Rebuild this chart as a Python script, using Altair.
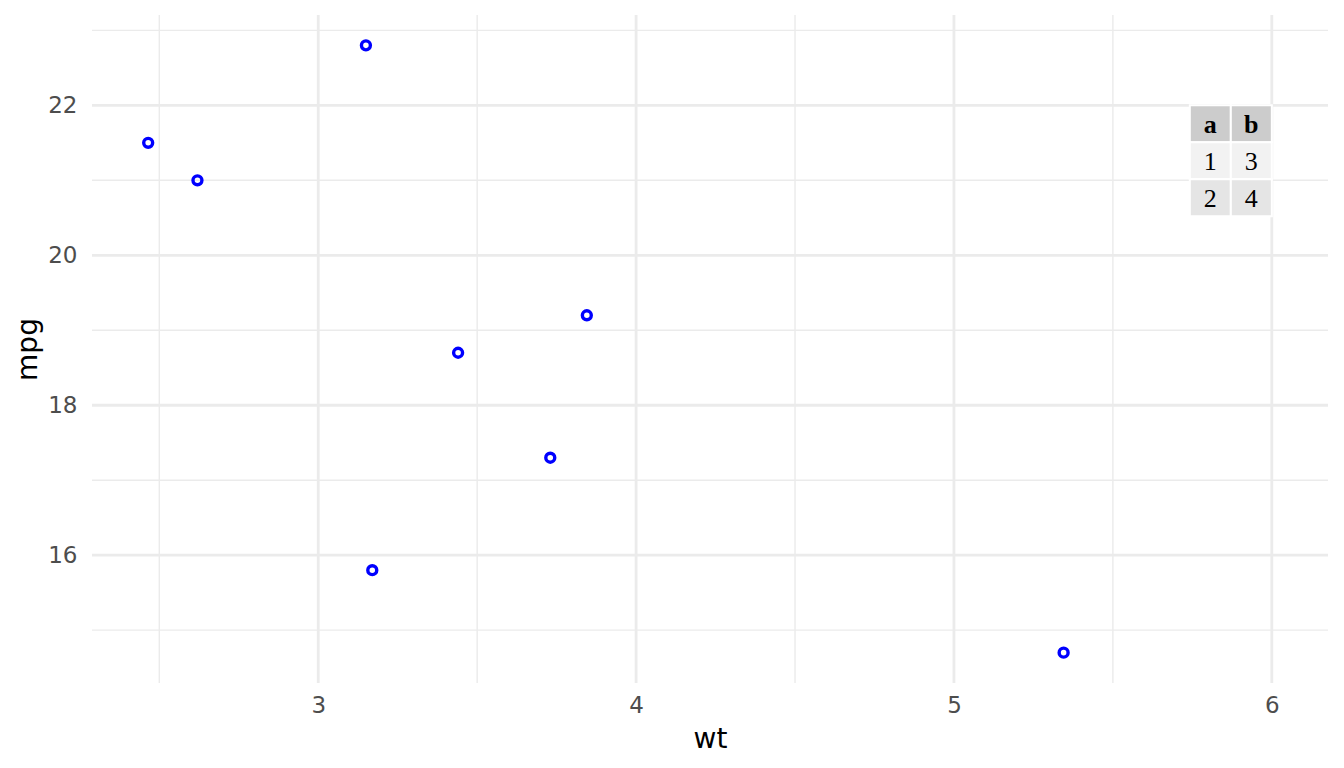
import altair as alt
import pandas as pd

# mtcars subset: weight (1000 lbs) and miles per gallon
wt = [2.465, 2.620, 3.150, 3.170, 3.440, 3.730, 3.845, 5.345]
mpg = [21.5, 21.0, 22.8, 15.8, 18.7, 17.3, 19.2, 14.7]

# gridline positions
x_major = [3, 4, 5, 6]
x_minor = [2.5, 3.5, 4.5, 5.5]
y_major = [16, 18, 20, 22]
y_minor = [15, 17, 19, 21, 23]

# inset table, anchored by its top-right corner
table_x = 6
table_y = 22
table_header = ["a", "b"]
table_rows = [["1", "3"], ["2", "4"]]

X_DOMAIN = [2.28825, 6.17675]
Y_DOMAIN = [14.295, 23.205]

x_scale = alt.Scale(domain=X_DOMAIN, nice=False, zero=False)
y_scale = alt.Scale(domain=Y_DOMAIN, nice=False, zero=False)
x_axis = alt.Axis(values=x_major, grid=False, domain=False, ticks=False,
                  labelPadding=11, titlePadding=8)
y_axis = alt.Axis(values=y_major, grid=False, domain=False, ticks=False,
                  labelPadding=15, titlePadding=5)


def x_enc(field):
    # every layer gets the same scale and axis so they merge cleanly
    return alt.X(field, type="quantitative", title="wt", scale=x_scale, axis=x_axis)


def y_enc(field):
    return alt.Y(field, type="quantitative", title="mpg", scale=y_scale, axis=y_axis)


def grid_layers():
    """Major and minor gridlines drawn as rules."""
    layers = []
    for vals, width in [(x_minor, 1.4), (x_major, 2.8)]:
        layers.append(
            alt.Chart(pd.DataFrame({"g": vals})).mark_rule(
                color="#EBEBEB", strokeWidth=width
            ).encode(x=x_enc("g"))
        )
    for vals, width in [(y_minor, 1.4), (y_major, 2.8)]:
        layers.append(
            alt.Chart(pd.DataFrame({"g": vals})).mark_rule(
                color="#EBEBEB", strokeWidth=width
            ).encode(y=y_enc("g"))
        )
    return layers


def table_layers():
    """Cells of the inset table, offset in pixels from its anchor."""
    cell_w, cell_h = 41, 37
    rows = [table_header] + table_rows
    fills = ["#CCCCCC", "#F2F2F2", "#E5E5E5"]
    anchor = pd.DataFrame({"tx": [table_x], "ty": [table_y]})
    ncol = len(table_header)
    layers = []
    for r, row in enumerate(rows):
        for c, label in enumerate(row):
            left = -(ncol - c) * cell_w
            top = r * cell_h
            cell = alt.Chart(anchor).mark_rect(
                fill=fills[r], stroke="white", strokeWidth=2,
                xOffset=left, x2Offset=left + cell_w,
                yOffset=top, y2Offset=top + cell_h
            ).encode(x=x_enc("tx"), x2="tx:Q", y=y_enc("ty"), y2="ty:Q")
            text = alt.Chart(anchor).mark_text(
                text=label, font="Liberation Serif", fontSize=26,
                fontWeight="bold" if r == 0 else "normal",
                color="black", align="center", baseline="middle",
                dx=left + cell_w / 2, dy=top + cell_h / 2 + 1
            ).encode(x=x_enc("tx"), y=y_enc("ty"))
            layers += [cell, text]
    return layers


def plot_points():
    df = pd.DataFrame({"wt": wt, "mpg": mpg})
    return alt.Chart(df).mark_point(
        shape="circle", filled=False, color="blue", opacity=1,
        size=80, strokeWidth=3.4
    ).encode(x=x_enc("wt"), y=y_enc("mpg"))


chart = alt.layer(
    *grid_layers(), plot_points(), *table_layers()
).properties(
    width=1236,
    height=668,
    autosize=alt.AutoSizeParams(type="none"),
    padding={"left": 84, "top": 7, "right": 8, "bottom": 77},
    background="white",
).configure_view(
    stroke=None
).configure_axis(
    labelFont="DejaVu Sans",
    labelFontSize=23,
    labelColor="#4D4D4D",
    titleFont="DejaVu Sans",
    titleFontSize=28,
    titleFontWeight="normal",
    titleColor="black",
)

chart.save("out.html", embed_options={"renderer": "svg", "actions": False})
